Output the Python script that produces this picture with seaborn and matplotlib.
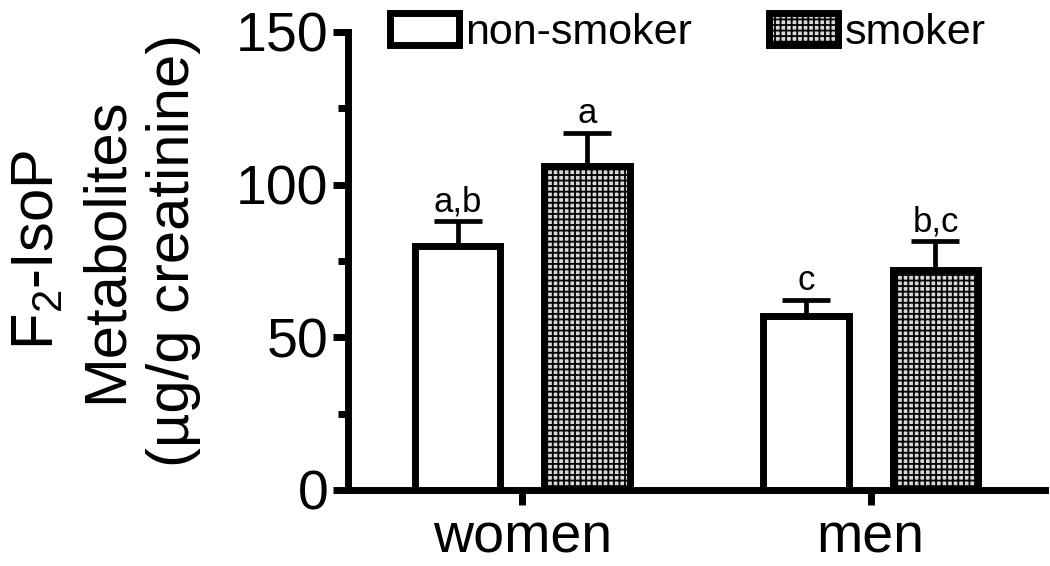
import matplotlib
matplotlib.use("Agg")
import matplotlib.pyplot as plt
from matplotlib.container import BarContainer
from matplotlib.ticker import MultipleLocator
import seaborn as sns
import pandas as pd

# Data
sex = ["women", "men"]
groups = ["non-smoker", "smoker"]
nonsmoker = [80, 57]
smoker = [106, 72]
nonsmoker_err = [8, 5.3]
smoker_err = [11, 9.5]
nonsmoker_lab = ["a,b", "c"]
smoker_lab = ["a", "b,c"]

df = pd.DataFrame({
    "sex": sex + sex,
    "group": [groups[0]] * 2 + [groups[1]] * 2,
    "value": nonsmoker + smoker,
})

sns.set_style("ticks")
plt.rcParams["font.family"] = ["Liberation Sans", "DejaVu Sans"]
plt.rcParams["mathtext.default"] = "regular"
plt.rcParams["text.color"] = "black"
plt.rcParams["xtick.color"] = "black"
plt.rcParams["ytick.color"] = "black"
plt.rcParams["axes.labelcolor"] = "black"
plt.rcParams["hatch.linewidth"] = 1.3
plt.rcParams["hatch.color"] = "black"

fig = plt.figure(figsize=(10.5, 5.66), dpi=100)
ax = fig.add_axes([348 / 1050, 76 / 566, 697 / 1050, 458 / 566])

sns.barplot(data=df, x="sex", y="value", hue="group", hue_order=groups,
            order=sex, width=0.743, gap=0.343, errorbar=None, legend=False,
            edgecolor="black", linewidth=5, ax=ax)

bars = [c for c in ax.containers if isinstance(c, BarContainer)]
for p in bars[0]:
    p.set_facecolor("white")
for p in bars[1]:
    p.set_facecolor("#d8d8d8")
    p.set_hatch("+++")

# upward error bars + significance letters
for cont, errs, labs in [(bars[0], nonsmoker_err, nonsmoker_lab),
                         (bars[1], smoker_err, smoker_lab)]:
    for p, e, lab in zip(cont, errs, labs):
        x = p.get_x() + p.get_width() / 2
        y = p.get_height()
        ax.errorbar(x, y, yerr=[[0], [e]], fmt="none", ecolor="black",
                    elinewidth=3.4, capsize=17, capthick=3.4, zorder=1)
        ax.annotate(lab, (x, y + e), xytext=(0, 7), textcoords="offset points",
                    ha="center", va="baseline", fontsize=25)

ax.set_xlim(-0.5, 1.5)
ax.set_ylim(0, 150)
ax.yaxis.set_major_locator(MultipleLocator(50))
ax.yaxis.set_minor_locator(MultipleLocator(25))
ax.tick_params(axis="both", which="major", labelsize=40, width=5, length=11,
               color="black", labelcolor="black")
ax.tick_params(axis="y", which="minor", width=5, length=7, color="black")
ax.tick_params(axis="y", which="major", pad=3)
ax.tick_params(axis="x", which="major", pad=5)
ax.set_xlabel("")
ax.set_ylabel("")
for s in ["top", "right"]:
    ax.spines[s].set_visible(False)
for s in ["left", "bottom"]:
    ax.spines[s].set_linewidth(5)
    ax.spines[s].set_color("black")

fig.text(106 / 1050, 1 - 250 / 566,
         "F$_2$-IsoP\nMetabolites\n(\u00b5g/g creatinine)",
         rotation=90, ha="center", va="center", multialignment="center",
         fontsize=43, linespacing=1.3)

ax.legend([bars[0][0], bars[1][0]], groups, loc="center",
          bbox_to_anchor=(0.655, 0.942), bbox_transform=fig.transFigure,
          ncol=2, frameon=False, fontsize=31, handlelength=1.6,
          handleheight=0.78, handletextpad=0.15, columnspacing=1.8,
          borderpad=0, borderaxespad=0)

fig.savefig("out.png", dpi=100)
